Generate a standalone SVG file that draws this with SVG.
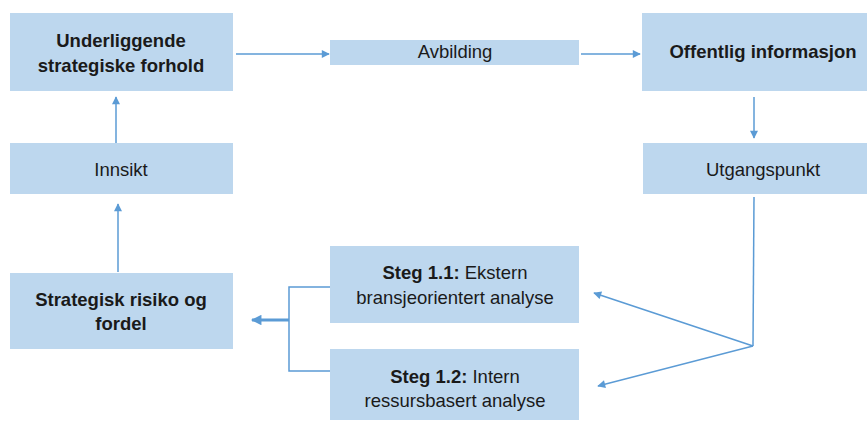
<svg xmlns="http://www.w3.org/2000/svg" width="867" height="421" viewBox="0 0 867 421">
<defs>
<style>
.box{fill:#BDD7EE;}
.t{font-family:"Liberation Sans",Arial,sans-serif;font-size:18.5px;fill:#1a1a1a;text-anchor:middle;}
.b{font-weight:bold;}
.c{stroke:#5B9BD5;stroke-width:1.5;fill:none;}
</style>
<marker id="ah" viewBox="0 0 10 10" refX="9" refY="5" markerWidth="10" markerHeight="8" markerUnits="userSpaceOnUse" orient="auto">
<path d="M0,0 L10,5 L0,10 z" fill="#5B9BD5"/>
</marker>
<marker id="ah2" viewBox="0 0 10 10" refX="9" refY="5" markerWidth="4" markerHeight="3.5" orient="auto">
<path d="M0,0 L10,5 L0,10 z" fill="#5B9BD5"/>
</marker>
</defs>
<rect width="867" height="421" fill="#ffffff"/>
<g id="connectors">
<line class="c" x1="236" y1="54" x2="329" y2="54" marker-end="url(#ah)"/>
<line class="c" x1="581" y1="54" x2="640" y2="54" marker-end="url(#ah)"/>
<line class="c" x1="754" y1="97" x2="754" y2="138" marker-end="url(#ah)"/>
<line class="c" x1="754" y1="197" x2="753" y2="346"/>
<line class="c" x1="753" y1="346" x2="594" y2="293" marker-end="url(#ah)"/>
<line class="c" x1="753" y1="346" x2="598" y2="386" marker-end="url(#ah)"/>
<line class="c" x1="118" y1="272" x2="118" y2="204" marker-end="url(#ah)"/>
<line class="c" x1="116" y1="143" x2="116" y2="97" marker-end="url(#ah)"/>
<polyline class="c" points="330,287 289,287 289,371 330,371"/>
<line class="c" x1="289" y1="320" x2="252" y2="320" style="stroke-width:3" marker-end="url(#ah2)"/>
</g>
<g id="underliggende">
<rect class="box" x="10" y="13" width="223" height="78"/>
<text class="t b" x="121" y="47">Underliggende</text>
<text class="t b" x="121" y="72">strategiske forhold</text>
</g>
<g id="avbilding">
<rect class="box" x="330" y="40" width="249" height="25"/>
<text class="t" x="455" y="58">Avbilding</text>
</g>
<g id="offentlig">
<rect class="box" x="642" y="13" width="225" height="78"/>
<text class="t b" x="763" y="58">Offentlig informasjon</text>
</g>
<g id="utgangspunkt">
<rect class="box" x="643" y="143" width="224" height="51"/>
<text class="t" x="763" y="176">Utgangspunkt</text>
</g>
<g id="innsikt">
<rect class="box" x="10" y="143" width="223" height="51"/>
<text class="t" x="121" y="176">Innsikt</text>
</g>
<g id="strategisk">
<rect class="box" x="10" y="273" width="223" height="76"/>
<text class="t b" x="121" y="306">Strategisk risiko og</text>
<text class="t b" x="121" y="330">fordel</text>
</g>
<g id="steg11">
<rect class="box" x="330" y="246" width="249" height="77"/>
<text class="t" x="455" y="279"><tspan class="b">Steg 1.1:</tspan> Ekstern</text>
<text class="t" x="455" y="304">bransjeorientert analyse</text>
</g>
<g id="steg12">
<rect class="box" x="330" y="349" width="249" height="71"/>
<text class="t" x="455" y="383"><tspan class="b">Steg 1.2:</tspan> Intern</text>
<text class="t" x="455" y="407">ressursbasert analyse</text>
</g>
</svg>
